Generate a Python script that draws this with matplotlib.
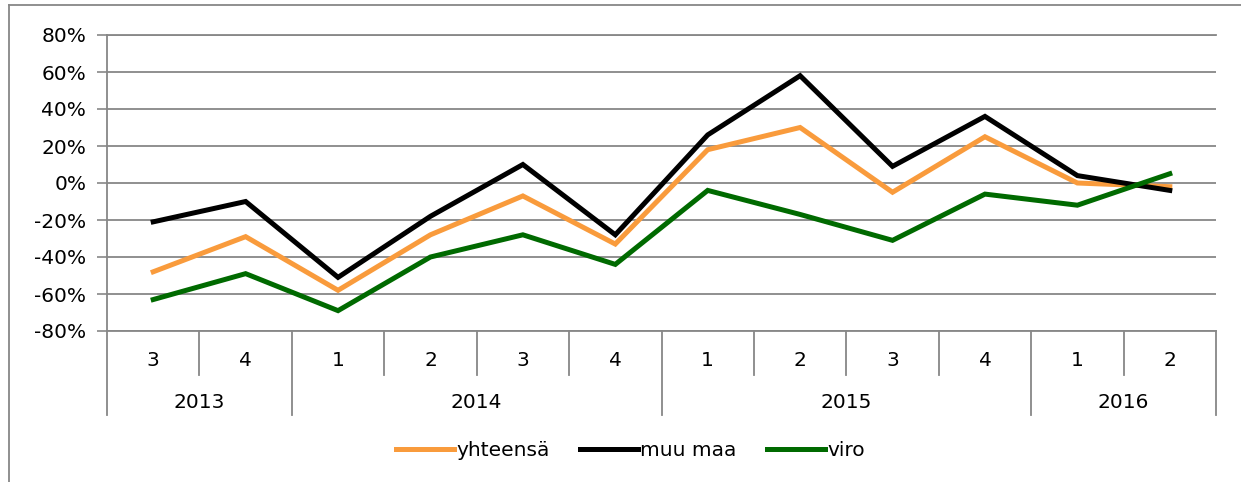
import matplotlib.pyplot as plt
from matplotlib.lines import Line2D
from matplotlib.ticker import FuncFormatter

# Quarterly change, %
years = ['2013', '2013', '2014', '2014', '2014', '2014',
         '2015', '2015', '2015', '2015', '2016', '2016']
quarters = ['3', '4', '1', '2', '3', '4', '1', '2', '3', '4', '1', '2']

yhteensa = [-48, -29, -58, -28, -7, -33, 18, 30, -5, 25, 0, -2]
muu_maa = [-21, -10, -51, -18, 10, -28, 26, 58, 9, 36, 4, -4]
viro = [-63, -49, -69, -40, -28, -44, -4, -17, -31, -6, -12, 5]

grid_col = '#878787'
fs = 14.5
plt.rcParams['font.family'] = 'DejaVu Sans'

fig = plt.figure(figsize=(12.41, 4.82), dpi=100)
ax = fig.add_axes([107 / 1241, 1 - 331 / 482, (1216 - 107) / 1241, 296 / 482])

x = list(range(len(quarters)))
ax.plot(x, yhteensa, color='#F99B3C', lw=3.6, label='yhteensä', solid_joinstyle='miter')
ax.plot(x, muu_maa, color='black', lw=3.6, label='muu maa', solid_joinstyle='miter')
ax.plot(x, viro, color='#006A00', lw=3.6, label='viro', solid_joinstyle='miter')

ax.set_xlim(-0.5, len(x) - 0.5)
ax.set_ylim(-80, 80)
ax.set_yticks(range(-80, 81, 20))
ax.yaxis.set_major_formatter(FuncFormatter(lambda v, p: f'{v:.0f}%'))
ax.tick_params(axis='y', length=7, width=1.2, color=grid_col, pad=8,
               labelsize=fs, labelcolor='black')
ax.set_xticks([])
ax.grid(axis='y', color=grid_col, lw=1.3)
ax.set_axisbelow(True)
ax.spines['right'].set_visible(False)
for s in ['left', 'bottom', 'top']:
    ax.spines[s].set_color(grid_col)
    ax.spines[s].set_linewidth(1.3)

# two-level category axis
tr = ax.get_xaxis_transform()
for i in range(len(x) + 1):
    long_sep = i == 0 or i == len(x) or quarters[i] == '1'
    y_end = -0.284 if long_sep else -0.149
    ax.plot([i - 0.5, i - 0.5], [0, y_end], color=grid_col, lw=1.3,
            transform=tr, clip_on=False)
for i, q in enumerate(quarters):
    ax.text(i, -0.101, q, transform=tr, ha='center', va='center', fontsize=fs)
start = 0
for i in range(1, len(years) + 1):
    if i == len(years) or years[i] != years[start]:
        ax.text((start + i - 1) / 2, -0.243, years[start], transform=tr,
                ha='center', va='center', fontsize=fs)
        start = i

fig.legend(loc='center', bbox_to_anchor=(0.508, 1 - 451 / 482), ncol=3,
           frameon=False, fontsize=fs, handlelength=2.9, handletextpad=0.1,
           columnspacing=1.5)

# outer chart border (partly cut off in the original)
fig.add_artist(Line2D([9 / 1241, 1], [1 - 5 / 482, 1 - 5 / 482],
                      color=grid_col, lw=1.3, transform=fig.transFigure))
fig.add_artist(Line2D([9 / 1241, 9 / 1241], [0, 1 - 5 / 482],
                      color=grid_col, lw=1.3, transform=fig.transFigure))

fig.savefig('out.png', dpi=100)
